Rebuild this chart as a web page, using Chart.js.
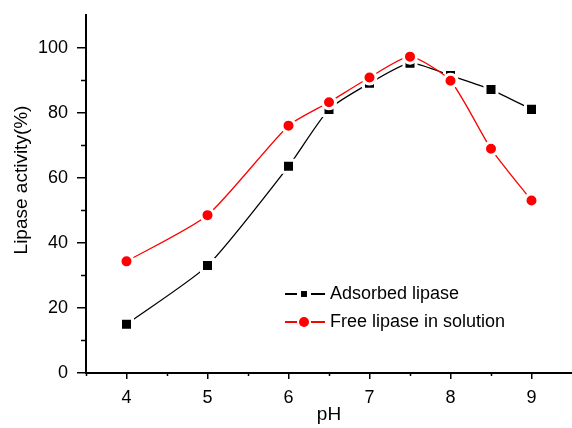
<!DOCTYPE html>
<html>
<head>
<meta charset="utf-8">
<script src="https://cdn.jsdelivr.net/npm/chart.js@4.4.1/dist/chart.umd.min.js"></script>
<style>
  html, body { margin: 0; padding: 0; background: #fff; }
  #wrap { width: 572px; height: 428px; }
</style>
</head>
<body>
<div id="wrap"><canvas id="chart"></canvas></div>
<script>
// Values
const phValues = [4, 5, 6, 6.5, 7, 7.5, 8, 8.5, 9];
const adsorbedActivity = [15, 33, 63.5, 81, 89, 95.2, 91.4, 87.1, 81];
const freeActivity = [34.3, 48.5, 76, 83.2, 90.8, 97.2, 89.8, 68.9, 53];
const xTickLabels = [4, 5, 6, 7, 8, 9];
const xMinorTicks = [3.5, 4.5, 5.5, 6.5, 7.5, 8.5];
const yTickLabels = [0, 20, 40, 60, 80, 100];
const yMinorTicks = [10, 30, 50, 70, 90];
const yTitle = 'Lipase activity(%)';

const FONT = '"Liberation Sans", Arial, sans-serif';

const toPoints = (xs, ys) => xs.map((x, i) => ({ x, y: ys[i] }));

// Minor ticks (shorter than the major ones) and the y axis title
const extras = {
  id: 'extras',
  afterDraw(chart) {
    const { ctx, chartArea, scales } = chart;
    ctx.save();
    ctx.strokeStyle = '#000';
    ctx.lineWidth = 1.5;
    ctx.beginPath();
    xMinorTicks.forEach(v => {
      const px = Math.round(scales.x.getPixelForValue(v)) + 0.5;
      ctx.moveTo(px, chartArea.bottom);
      ctx.lineTo(px, chartArea.bottom + 3);
    });
    yMinorTicks.forEach(v => {
      const py = Math.round(scales.y.getPixelForValue(v)) + 0.5;
      ctx.moveTo(chartArea.left, py);
      ctx.lineTo(chartArea.left - 5, py);
    });
    ctx.stroke();

    ctx.translate(22, 180);
    ctx.rotate(-Math.PI / 2);
    ctx.fillStyle = '#000';
    ctx.font = '19px ' + FONT;
    ctx.textAlign = 'center';
    ctx.textBaseline = 'middle';
    ctx.fillText(yTitle, 0, 0);
    ctx.restore();
  }
};

// Legend inside the plot, Origin style: line - marker - line
const insideLegend = {
  id: 'insideLegend',
  afterDraw(chart) {
    const { ctx } = chart;
    const x0 = 285, rowY = [294, 322];
    ctx.save();
    chart.data.datasets.forEach((ds, i) => {
      const y = rowY[i];
      ctx.strokeStyle = ds.borderColor;
      ctx.lineWidth = 1.8;
      ctx.beginPath();
      ctx.moveTo(x0, y); ctx.lineTo(x0 + 12, y);
      ctx.moveTo(x0 + 26, y); ctx.lineTo(x0 + 40, y);
      ctx.stroke();
      ctx.fillStyle = ds.backgroundColor;
      Chart.helpers.drawPoint(ctx, {
        pointStyle: ds.pointStyle, radius: i === 0 ? 4.2 : 5, borderWidth: 0
      }, x0 + 19, y);
      ctx.fillStyle = '#000';
      ctx.font = '18px ' + FONT;
      ctx.textBaseline = 'middle';
      ctx.fillText(ds.label, x0 + 45, y);
    });
    ctx.restore();
  }
};

new Chart(document.getElementById('chart'), {
  type: 'line',
  data: {
    datasets: [
      {
        label: 'Adsorbed lipase',
        data: toPoints(phValues, adsorbedActivity),
        borderColor: '#000',
        backgroundColor: '#000',
        borderWidth: 1.3,
        tension: 0.2,
        pointStyle: 'rect',
        pointRadius: 8.5,
        pointBorderColor: '#fff',
        pointBorderWidth: 3,
        order: 1
      },
      {
        label: 'Free lipase in solution',
        data: toPoints(phValues, freeActivity),
        borderColor: '#ff0000',
        backgroundColor: '#ff0000',
        borderWidth: 1.3,
        tension: 0.2,
        pointStyle: 'circle',
        pointRadius: 6.5,
        pointBorderColor: '#fff',
        pointBorderWidth: 3,
        order: 0
      }
    ]
  },
  options: {
    responsive: true,
    maintainAspectRatio: false,
    animation: false,
    layout: { autoPadding: false, padding: { top: 15, right: 0, left: 0, bottom: 0 } },
    plugins: { legend: { display: false }, tooltip: { enabled: false } },
    scales: {
      x: {
        type: 'linear',
        min: 3.5,
        max: 9.5,
        afterBuildTicks: s => { s.ticks = xTickLabels.map(v => ({ value: v })); },
        afterFit: s => { s.height = 55; s.paddingLeft = 0; s.paddingRight = 0; },
        ticks: { color: '#000', font: { size: 18, family: FONT }, padding: 8 },
        grid: { drawOnChartArea: false, drawTicks: true, tickLength: 6, color: '#000', lineWidth: 1.5 },
        border: { display: true, color: '#000', width: 2 },
        title: { display: true, text: 'pH', color: '#000', font: { size: 19, family: FONT }, padding: { top: 0, bottom: 2 } }
      },
      y: {
        min: 0,
        max: 110,
        afterBuildTicks: s => { s.ticks = yTickLabels.map(v => ({ value: v })); },
        afterFit: s => { s.width = 86; s.paddingTop = 0; s.paddingBottom = 0; },
        ticks: { color: '#000', font: { size: 18, family: FONT }, padding: 9 },
        grid: { drawOnChartArea: false, drawTicks: true, tickLength: 9, color: '#000', lineWidth: 1.5 },
        border: { display: true, color: '#000', width: 2 },
        title: { display: false }
      }
    }
  },
  plugins: [extras, insideLegend]
});
</script>
</body>
</html>
